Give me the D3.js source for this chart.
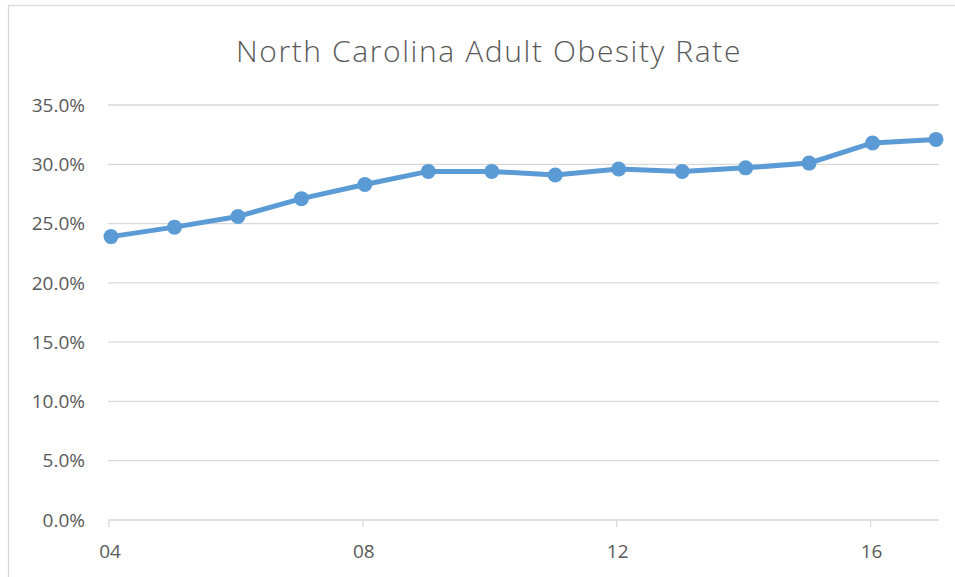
<html>
<head>
  <title>North Carolina Adult Obesity Rate</title>
  <script src="https://d3js.org/d3.v7.min.js"></script>
  <style>
    body { margin: 0; background: white; }
  </style>
</head>
<body>
  <script>
    // data
    const years = [2004, 2005, 2006, 2007, 2008, 2009, 2010, 2011, 2012, 2013, 2014, 2015, 2016, 2017];
    const rates = [23.9, 24.7, 25.6, 27.1, 28.3, 29.4, 29.4, 29.1, 29.6, 29.4, 29.7, 30.1, 31.8, 32.1];
    const yTicks = [0, 5, 10, 15, 20, 25, 30, 35];
    const xTicks = [2004, 2008, 2012, 2016];
    const title = "North Carolina Adult Obesity Rate";

    const width = 955, height = 577;
    const svg = d3.select("body").append("svg")
      .attr("width", width)
      .attr("height", height);

    // chart border
    svg.append("rect")
      .attr("x", 8.5).attr("y", 5.5)
      .attr("width", width + 10).attr("height", height + 10)
      .attr("fill", "none")
      .attr("stroke", "#d9d9d9")
      .attr("stroke-width", 1.3);

    const x = d3.scaleLinear().domain([2004, 2017]).range([111, 936]);
    const y = d3.scaleLinear().domain([0, 35]).range([520, 105]);
    const plotLeft = 108, plotRight = 939;

    // gridlines
    svg.append("g")
      .selectAll("line")
      .data(yTicks.filter(d => d > 0))
      .join("line")
      .attr("x1", plotLeft).attr("x2", plotRight)
      .attr("y1", d => y(d)).attr("y2", d => y(d))
      .attr("stroke", "#d9d9d9")
      .attr("stroke-width", 1.3);

    // y labels
    svg.append("g")
      .selectAll("text")
      .data(yTicks)
      .join("text")
      .attr("x", 85)
      .attr("y", d => y(d))
      .attr("dy", "0.35em")
      .attr("text-anchor", "end")
      .attr("fill", "#595959")
      .attr("font-family", "Open Sans, sans-serif")
      .attr("font-size", 19)
      .text(d => d.toFixed(1) + "%");

    // x axis
    const xAxisG = svg.append("g").attr("transform", "translate(0,520)");
    xAxisG.append("line")
      .attr("x1", plotLeft).attr("x2", plotRight)
      .attr("stroke", "#d9d9d9").attr("stroke-width", 1.3);
    xAxisG.selectAll("line.tick")
      .data(xTicks)
      .join("line")
      .attr("class", "tick")
      .attr("x1", d => x(d) - 2).attr("x2", d => x(d) - 2)
      .attr("y1", 0).attr("y2", 7)
      .attr("stroke", "#d9d9d9").attr("stroke-width", 1.3);
    xAxisG.selectAll("text")
      .data(xTicks)
      .join("text")
      .attr("x", d => x(d) - 1)
      .attr("y", 31)
      .attr("dy", "0.35em")
      .attr("text-anchor", "middle")
      .attr("fill", "#595959")
      .attr("font-family", "Open Sans, sans-serif")
      .attr("font-size", 19)
      .text(d => String(d % 100).padStart(2, "0"));

    // title
    svg.append("text")
      .attr("x", 489)
      .attr("y", 51)
      .attr("dy", "0.35em")
      .attr("text-anchor", "middle")
      .attr("fill", "#595959")
      .attr("font-family", "Open Sans, sans-serif")
      .attr("font-weight", 300)
      .attr("font-size", 30)
      .attr("letter-spacing", 1.6)
      .text(title);

    // line and markers
    const data = years.map((yr, i) => ({ year: yr, rate: rates[i] }));
    svg.append("path")
      .datum(data)
      .attr("fill", "none")
      .attr("stroke", "#5b9bd5")
      .attr("stroke-width", 5)
      .attr("stroke-linejoin", "round")
      .attr("d", d3.line().x(d => x(d.year)).y(d => y(d.rate)));

    svg.append("g")
      .selectAll("circle")
      .data(data)
      .join("circle")
      .attr("cx", d => x(d.year))
      .attr("cy", d => y(d.rate))
      .attr("r", 7.5)
      .attr("fill", "#5b9bd5");
  </script>
</body>
</html>
